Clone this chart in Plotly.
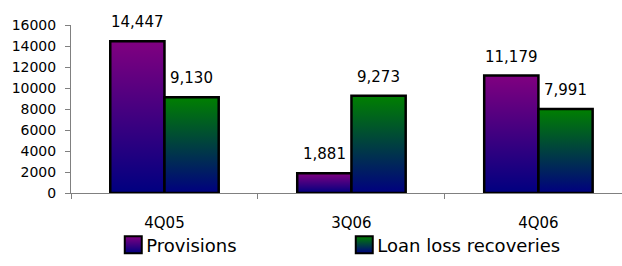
import plotly.graph_objects as go

categories = ["4Q05", "3Q06", "4Q06"]
provisions = [14447, 1881, 11179]
recoveries = [9130, 9273, 7991]
series_names = ["Provisions", "Loan loss recoveries"]
y_ticks = [0, 2000, 4000, 6000, 8000, 10000, 12000, 14000, 16000]

FONT = "DejaVu Sans"

fig = go.Figure()
fig.add_trace(go.Bar(x=categories, y=provisions, name=series_names[0],
                     marker=dict(color="#800080", line=dict(color="black", width=2.5))))
fig.add_trace(go.Bar(x=categories, y=recoveries, name=series_names[1],
                     marker=dict(color="#008000", line=dict(color="black", width=2.5))))

annotations = []
for vals, shift in ((provisions, -27), (recoveries, 27)):
    for c, v in zip(categories, vals):
        annotations.append(dict(x=c, y=v, text=f"{v:,}", showarrow=False,
                                xref="x", yref="y", xshift=shift, yshift=8,
                                yanchor="bottom", xanchor="center",
                                font=dict(family=FONT, size=15, color="black")))

fig.update_layout(
    width=622, height=266,
    margin=dict(l=71, r=0, t=25, b=73, autoexpand=False),
    paper_bgcolor="white", plot_bgcolor="white",
    barmode="group", bargap=0.42, bargroupgap=0,
    font=dict(family=FONT, color="black"),
    annotations=annotations,
    legend=dict(orientation="h", x=0.064, y=-0.31, xanchor="left", yanchor="middle",
                bgcolor="rgba(0,0,0,0)",
                font=dict(family=FONT, size=18, color="black"),
                entrywidth=186, entrywidthmode="pixels",
                itemclick=False, traceorder="normal"),
    xaxis=dict(type="category", range=[-0.5, 2.447], showline=True, linecolor="#808080",
               linewidth=1, ticks="outside", tickson="boundaries", ticklen=5,
               tickcolor="#808080", showgrid=False, ticklabelstandoff=16,
               tickfont=dict(family=FONT, size=15, color="black")),
    yaxis=dict(range=[0, 16000], tickvals=y_ticks, ticktext=[str(t) for t in y_ticks],
               showline=True, linecolor="#808080", linewidth=1, ticks="outside",
               ticklen=5, tickcolor="#808080", showgrid=False, zeroline=False,
               ticklabelstandoff=6,
               tickfont=dict(family=FONT, size=14, color="black")),
)

post_script = """
document.body.style.margin = '0';
document.body.style.padding = '0';
var gd = document.getElementById('{plot_id}');
function applyGrad() {
  var svg = gd.querySelector('svg.main-svg');
  var defs = svg.querySelector('defs');
  var ns = 'http://www.w3.org/2000/svg';
  function mk(id, top, bot) {
    if (document.getElementById(id)) return;
    var g = document.createElementNS(ns, 'linearGradient');
    g.setAttribute('id', id);
    g.setAttribute('x1', '0'); g.setAttribute('y1', '0');
    g.setAttribute('x2', '0'); g.setAttribute('y2', '1');
    var s1 = document.createElementNS(ns, 'stop');
    s1.setAttribute('offset', '0'); s1.setAttribute('stop-color', top);
    var s2 = document.createElementNS(ns, 'stop');
    s2.setAttribute('offset', '1'); s2.setAttribute('stop-color', bot);
    g.appendChild(s1); g.appendChild(s2); defs.appendChild(g);
  }
  mk('gradP', '#800080', '#000080');
  mk('gradG', '#008000', '#000080');
  var ids = ['gradP', 'gradG'];
  var traces = gd.querySelectorAll('g.barlayer g.trace');
  traces.forEach(function(t, i) {
    t.querySelectorAll('path').forEach(function(p) { p.style.fill = 'url(#' + ids[i] + ')'; });
  });
  var items = gd.querySelectorAll('g.legend g.traces');
  items.forEach(function(t, i) {
    t.querySelectorAll('g.legendpoints path').forEach(function(p) {
      p.setAttribute('d', 'M8.5,8.5H-8.5V-8.5H8.5Z');
      p.setAttribute('transform', 'translate(27,0)');
      p.style.fill = 'url(#' + ids[i] + ')';
      p.style.stroke = 'black'; p.style.strokeWidth = '2px';
    });
  });
}
applyGrad();
"""

fig.write_html("out.html", post_script=post_script, config={"displayModeBar": False})
